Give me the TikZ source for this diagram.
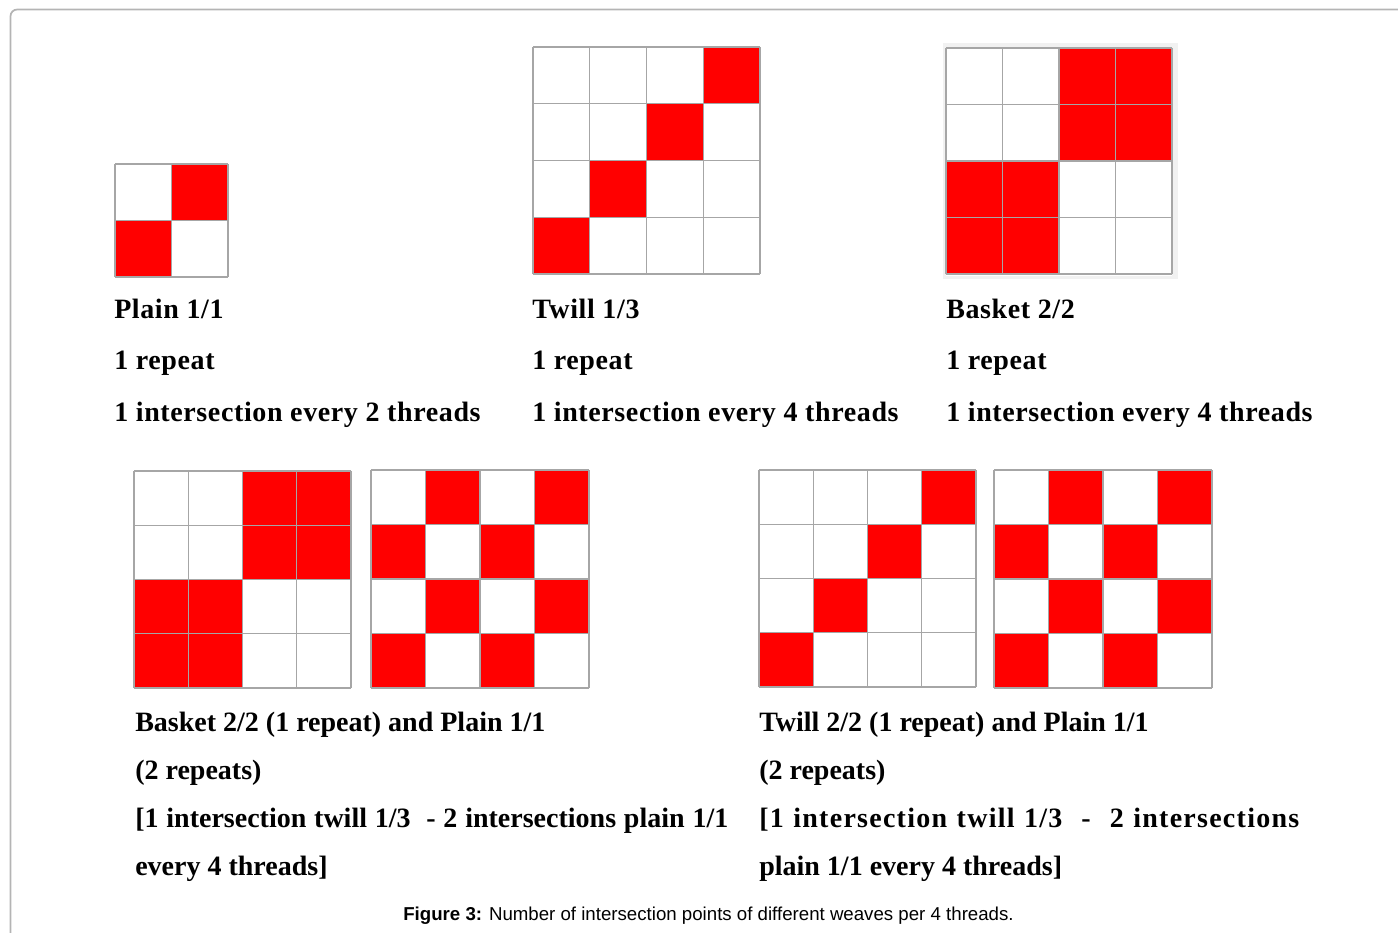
\documentclass[tikz,border=0pt]{standalone}
\usepackage{fontspec}
\setmainfont{Liberation Serif}
\newfontfamily\capfont{Liberation Sans}
\newfontfamily\widefont[LetterSpace=2.2]{Liberation Serif}
\newfontfamily\widerfont[LetterSpace=4.5]{Liberation Serif}
\definecolor{weavered}{HTML}{FF0000}
\definecolor{gridgray}{HTML}{A6A6A6}
\definecolor{framegray}{HTML}{B4B4B4}
\definecolor{shadegray}{HTML}{F1F1F1}
\tikzset{
  gridline/.style={draw=gridgray, line width=1.1pt},
  redcell/.style={fill=weavered},
  lbl/.style={anchor=base west, inner sep=0pt, font=\fontsize{21}{21}\selectfont\bfseries},
  toplbl/.style={lbl, font=\fontsize{21}{21}\selectfont\widefont\bfseries},
  capt/.style={anchor=base, inner sep=0pt, font=\fontsize{14}{14}\selectfont\capfont},
}
\newcommand{\weavegrid}[5]{%
  \foreach \c/\r in {#5} \fill[redcell] ({#1+\c*#3},{#2+\r*#3}) rectangle ++(#3,#3);
  \foreach \i in {0,...,#4} {
    \draw[gridline] ({#1+\i*#3},#2) -- ++(0,{#4*#3});
    \draw[gridline] (#1,{#2+\i*#3}) -- ++({#4*#3},0);
  }%
}
\begin{document}
\begin{tikzpicture}[x=0.75pt,y=-0.75pt]
\useasboundingbox (0,0) rectangle (1398,932);
\begin{scope}
\clip (0,0) rectangle (1398,932);
\draw[framegray, line width=1.3pt, rounded corners=5pt] (10.5,1000) -- (10.5,9.5) -- (1500,9.5);
\end{scope}

% top row grids
\weavegrid{115}{164}{56.5}{2}{1/0,0/1}
\weavegrid{533}{47}{56.75}{4}{3/0,2/1,1/2,0/3}
\fill[shadegray] (943,43) rectangle (1178,279);
\fill[white] (946,48) rectangle (1172,276);
\weavegrid{946}{48}{56.5}{4}{2/0,3/0,2/1,3/1,0/2,1/2,0/3,1/3}

% bottom row grids
\weavegrid{134}{471}{54.25}{4}{2/0,3/0,2/1,3/1,0/2,1/2,0/3,1/3}
\weavegrid{371}{470}{54.5}{4}{1/0,3/0,0/1,2/1,1/2,3/2,0/3,2/3}
\weavegrid{759}{470}{54.25}{4}{3/0,2/1,1/2,0/3}
\weavegrid{994}{470}{54.5}{4}{1/0,3/0,0/1,2/1,1/2,3/2,0/3,2/3}

% top labels
\node[toplbl] (p1) at (114,318) {Plain 1/1};
\node[toplbl] (p2) at (114,369.5) {1 repeat};
\node[toplbl] (p3) at (114,421) {1 intersection every 2 threads};
\node[toplbl] (t1) at (532,318) {Twill 1/3};
\node[toplbl] (t2) at (532,369.5) {1 repeat};
\node[toplbl] (t3) at (532,421) {1 intersection every 4 threads};
\node[toplbl] (b1) at (946,318) {Basket 2/2};
\node[toplbl] (b2) at (946,369.5) {1 repeat};
\begin{scope}
\clip (900,380) rectangle (1316,440);
\node[toplbl] (b3) at (946,421) {1 intersection every 4 threads};
\end{scope}

% bottom labels
\node[lbl] (l1) at (135,731) {Basket 2/2 (1 repeat) and Plain 1/1};
\node[lbl] (l2) at (135,779) {(2 repeats)};
\node[lbl] (l3) at (135,827) {\makebox[444.75pt][s]{[1 intersection twill 1/3\ \ - 2 intersections plain 1/1}};
\node[lbl] (l4) at (135,875) {every 4 threads]};
\node[lbl] (r1) at (759,731) {Twill 2/2 (1 repeat) and Plain 1/1};
\node[lbl] (r2) at (759,779) {(2 repeats)};
\node[lbl, font=\fontsize{21}{21}\selectfont\widerfont\bfseries] (r3) at (759,827) {\makebox[405pt][s]{[1 intersection twill 1/3\ \ -\ \ 2 intersections}};
\node[lbl] (r4) at (759,875) {plain 1/1 every 4 threads]};

% caption
\node[capt] (cap) at (708.5,920) {\textbf{Figure 3:} Number of intersection points of different weaves per 4 threads.};
\end{tikzpicture}
\end{document}
